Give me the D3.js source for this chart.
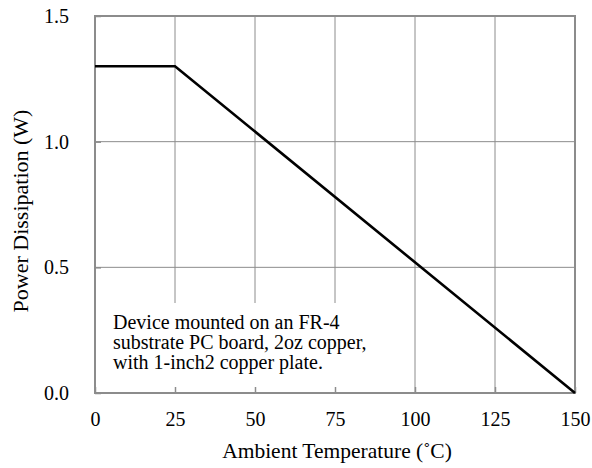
<!DOCTYPE html>
<html>
<head>
<meta charset="utf-8">
<script src="https://cdn.jsdelivr.net/npm/d3@7"></script>
<style>
  html, body { margin: 0; padding: 0; background: #fff; }
  svg { display: block; }
</style>
</head>
<body>
<svg id="chart" width="592" height="468"></svg>
<script>
// Derating curve: ambient temperature (°C) vs. allowable power dissipation (W)
const temperature = [0, 25, 150];
const power = [1.3, 1.3, 0.0];
const xTicks = [0, 25, 50, 75, 100, 125, 150];
const yTicks = [0.0, 0.5, 1.0, 1.5];
const noteLines = [
  "Device mounted on an FR-4",
  "substrate PC board, 2oz copper,",
  "with 1-inch2 copper plate."
];

const FONT = "'Liberation Serif', 'Times New Roman', Tinos, serif";

const svg = d3.select("#chart").style("font-family", FONT);
const margin = { left: 95, right: 17, top: 16, bottom: 75 };
const W = 592, H = 468;

const x = d3.scaleLinear().domain([0, 150]).range([margin.left, W - margin.right]);
const y = d3.scaleLinear().domain([0, 1.5]).range([H - margin.bottom, margin.top]);

const grid = "#8c8c8c";

// Vertical grid lines
svg.append("g").selectAll("line").data(xTicks.slice(1, -1)).join("line")
  .attr("x1", d => x(d)).attr("x2", d => x(d))
  .attr("y1", y(0)).attr("y2", y(1.5))
  .attr("stroke", grid).attr("stroke-width", 1);

// Horizontal grid lines
svg.append("g").selectAll("line").data(yTicks.slice(1, -1)).join("line")
  .attr("x1", x(0)).attr("x2", x(150))
  .attr("y1", d => y(d)).attr("y2", d => y(d))
  .attr("stroke", grid).attr("stroke-width", 1);

// White text box that hides the grid behind the note
svg.append("rect")
  .attr("x", x(0) + 1).attr("y", 303)
  .attr("width", 285).attr("height", y(0) - 303 - 1)
  .attr("fill", "#fff");

// Plot frame
svg.append("rect")
  .attr("x", x(0)).attr("y", y(1.5))
  .attr("width", x(150) - x(0)).attr("height", y(0) - y(1.5))
  .attr("fill", "none").attr("stroke", grid).attr("stroke-width", 2);

// Axes with inward ticks
const styleAxis = g => {
  g.attr("font-family", FONT).attr("font-size", 20);
  g.select(".domain").remove();
  g.selectAll(".tick line").attr("stroke", grid).attr("stroke-width", 1.5);
  g.selectAll(".tick text").attr("fill", "#000");
};

const xAxis = d3.axisBottom(x).tickValues(xTicks).tickSize(-6).tickPadding(19)
  .tickFormat(d3.format("d"));
svg.append("g").attr("transform", `translate(0,${y(0)})`).call(xAxis).call(styleAxis);

const yAxis = d3.axisLeft(y).tickValues(yTicks).tickSize(-6).tickPadding(26)
  .tickFormat(d3.format(".1f"));
svg.append("g").attr("transform", `translate(${x(0)},0)`).call(yAxis).call(styleAxis);

// Derating line
const line = d3.line().x((d, i) => x(temperature[i])).y(d => y(d));
svg.append("path").datum(power)
  .attr("d", line)
  .attr("fill", "none").attr("stroke", "#000").attr("stroke-width", 2.6)
  .attr("stroke-linejoin", "miter");

// Note text
svg.append("g").selectAll("text").data(noteLines).join("text")
  .attr("x", 113).attr("y", (d, i) => 328.5 + i * 20)
  .attr("font-size", 20)
  .text(d => d);

// Axis titles
svg.append("text")
  .attr("x", 337).attr("y", 458)
  .attr("text-anchor", "middle").attr("font-size", 21.5)
  .text("Ambient Temperature (˚C)");

svg.append("text")
  .attr("transform", "translate(28,211) rotate(-90)")
  .attr("text-anchor", "middle").attr("font-size", 22)
  .text("Power Dissipation (W)");
</script>
</body>
</html>
